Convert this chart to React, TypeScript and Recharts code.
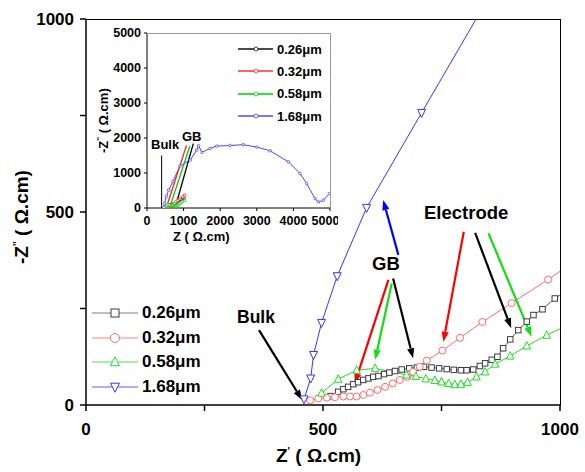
import React from "react";
import { LineChart, Line, XAxis, YAxis, ReferenceLine } from "recharts";

// Z' / -Z'' pairs (Ω.cm)
const s026: [number, number][] = [
  [516, 23], [532, 34], [543, 41], [553, 47], [564, 54], [574, 59], [585, 65], [596, 69],
  [606, 73], [617, 75], [629, 80], [640, 84], [652, 88], [666, 92], [682, 95], [698, 97],
  [713, 99], [729, 97], [745, 95], [761, 93], [776, 91], [791, 90], [803, 90], [817, 92],
  [831, 101], [842, 108], [856, 117], [868, 125], [880, 147], [895, 170], [912, 194],
  [930, 216], [944, 233], [963, 248], [989, 276], [1010, 292],
];
const s032: [number, number][] = [
  [473, 12], [490, 17], [508, 19], [525, 20], [543, 22], [557, 22], [571, 22], [585, 26],
  [599, 32], [615, 39], [631, 47], [647, 56], [662, 65], [678, 73], [690, 86], [704, 99],
  [719, 115], [752, 141], [789, 174], [836, 215], [898, 264], [975, 325], [1030, 372],
];
const s058: [number, number][] = [
  [497, 31], [532, 67], [571, 90], [610, 95], [676, 78], [696, 74], [717, 68], [736, 64],
  [750, 60], [765, 56], [778, 53], [791, 54], [805, 59], [824, 73], [842, 86], [863, 106],
  [895, 127], [930, 153], [972, 181], [1030, 215],
];
const s168: [number, number][] = [
  [460, 15], [474, 69], [480, 130], [497, 213], [530, 334], [592, 511], [708, 757], [850, 1057],
];
// full arc shown in the inset
const s168wide: [number, number][] = [
  [460, 15], [480, 130], [530, 334], [592, 511], [708, 757], [900, 1200], [1182, 1367],
  [1360, 1660], [1409, 1780], [1500, 1590], [1720, 1700], [1904, 1769], [2270, 1785],
  [2631, 1809], [3000, 1740], [3364, 1635], [3864, 1319], [4182, 985], [4364, 698],
  [4591, 268], [4682, 172], [4818, 220], [4982, 411],
];

const mainTicks = [0, 250, 500, 750, 1000];
const insetTicks = [0, 1000, 2000, 3000, 4000, 5000];
const seriesNames = ["0.26μm", "0.32μm", "0.58μm", "1.68μm"];

// annotation arrows, data coords [x1, y1, x2, y2]
const bulkArrow = [365, 194, 456, 13];
const gbArrows = [
  { c: "#ff0000", s: [638, 324, 567, 56] },
  { c: "#10e010", s: [645, 315, 610, 117] },
  { c: "#000000", s: [648, 328, 690, 121] },
  { c: "#0000ff", s: [659, 389, 627, 531] },
];
const electrodeArrows = [
  { c: "#ff0000", s: [797, 449, 754, 164] },
  { c: "#000000", s: [821, 446, 897, 199] },
  { c: "#10e010", s: [849, 445, 940, 177] },
];
const insetBulk = [400, 0, 400, 1500];
const insetGb = [
  { c: "#ff2020", s: [565, 130, 1080, 1790] },
  { c: "#00cc00", s: [660, 140, 1170, 1770] },
  { c: "#000000", s: [790, 86, 1265, 1840] },
];

const toXY = (a: [number, number][]) => a.map(([x, y]) => ({ x, y }));

const FONT = "'Liberation Sans', Arial, sans-serif";

type Kind = "square" | "circle" | "up" | "down";

function Marker({ kind, cx, cy, size, color, sw = 1 }: any) {
  const h = size / 2;
  if (kind === "square")
    return <rect x={cx - h} y={cy - h} width={size} height={size} fill="#fff" stroke={color} strokeWidth={sw} />;
  if (kind === "circle") return <circle cx={cx} cy={cy} r={h} fill="#fff" stroke={color} strokeWidth={sw} />;
  if (kind === "up")
    return (
      <polygon
        points={`${cx},${cy - size * 0.58} ${cx - h},${cy + size * 0.42} ${cx + h},${cy + size * 0.42}`}
        fill="#fff" stroke={color} strokeWidth={sw}
      />
    );
  return (
    <polygon
      points={`${cx},${cy + size * 0.58} ${cx - h},${cy - size * 0.42} ${cx + h},${cy - size * 0.42}`}
      fill="#fff" stroke={color} strokeWidth={sw}
    />
  );
}

const dot = (kind: Kind, color: string, size: number) => (p: any) => {
  if (p.cx == null || p.cy == null) return <g key={p.index} />;
  return <Marker key={p.index} kind={kind} cx={p.cx} cy={p.cy} size={size} color={color} />;
};

const arrow = (color: string, width = 2.2, head = true) => (p: any) => {
  const { x1, y1, x2, y2 } = p;
  const a = Math.atan2(y2 - y1, x2 - x1);
  const L = head ? 10 : 0;
  const W = 3.6;
  const bx = x2 - L * Math.cos(a);
  const by = y2 - L * Math.sin(a);
  return (
    <g>
      <line x1={x1} y1={y1} x2={bx} y2={by} stroke={color} strokeWidth={width} />
      {head && (
        <polygon
          points={`${x2},${y2} ${bx - W * Math.sin(a)},${by + W * Math.cos(a)} ${bx + W * Math.sin(a)},${by - W * Math.cos(a)}`}
          fill={color}
        />
      )}
    </g>
  );
};

const seg = (s: number[]) => [{ x: s[0], y: s[1] }, { x: s[2], y: s[3] }];

const mainSeries = [
  { data: s026, kind: "square" as Kind, color: "#3c3c3c", line: "#606060", size: 5.5 },
  { data: s032, kind: "circle" as Kind, color: "#ff6a6a", line: "#ff6a6a", size: 7 },
  { data: s058, kind: "up" as Kind, color: "#22dd22", line: "#22dd22", size: 7.5 },
  { data: s168, kind: "down" as Kind, color: "#3535ff", line: "#3535ff", size: 8 },
];

const insetSeries = [
  { data: s026, color: "#111111" },
  { data: s032, color: "#ff3030" },
  { data: s058, color: "#00d000" },
  { data: s168wide, color: "#4848ff" },
];

const abs = (left: number, top: number, extra: React.CSSProperties = {}): React.CSSProperties => ({
  position: "absolute",
  left,
  top,
  whiteSpace: "nowrap",
  ...extra,
});

export default function App() {
  const mainTickStyle = { fontSize: 17, fontWeight: 700, fill: "#000", fontFamily: FONT };
  const insetTickStyle = { fontSize: 12.5, fontWeight: 700, fill: "#000", fontFamily: FONT };
  return (
    <div
      style={{
        position: "absolute",
        left: 0,
        top: 0,
        width: 585,
        height: 472,
        background: "#fff",
        fontFamily: FONT,
        fontWeight: 700,
        color: "#000",
      }}
    >
      <LineChart width={585} height={472} margin={{ top: 19, right: 25, bottom: 0, left: 0 }}>
        <XAxis
          xAxisId="b"
          type="number"
          dataKey="x"
          domain={[0, 1000]}
          ticks={mainTicks}
          allowDataOverflow
          height={67}
          tickSize={6}
          tickMargin={12}
          tickFormatter={(v: number) => (v % 500 === 0 ? String(v) : "")}
          tick={mainTickStyle}
          axisLine={{ stroke: "#000", strokeWidth: 1.5 }}
          tickLine={{ stroke: "#000", strokeWidth: 1.5 }}
        />
        <YAxis
          yAxisId="l"
          type="number"
          domain={[0, 1000]}
          ticks={mainTicks}
          allowDataOverflow
          width={86}
          tickSize={6}
          tickMargin={6}
          tickFormatter={(v: number) => (v % 500 === 0 ? String(v) : "")}
          tick={mainTickStyle}
          axisLine={{ stroke: "#000", strokeWidth: 1.5 }}
          tickLine={{ stroke: "#000", strokeWidth: 1.5 }}
        />
        {mainSeries.map((s, i) => (
          <Line
            key={i}
            xAxisId="b"
            yAxisId="l"
            data={toXY(s.data)}
            dataKey="y"
            stroke={s.line}
            strokeWidth={1}
            dot={dot(s.kind, s.color, s.size)}
            activeDot={false}
            isAnimationActive={false}
          />
        ))}
        <ReferenceLine xAxisId="b" yAxisId="l" segment={seg(bulkArrow)} shape={arrow("#000")} />
        {[...gbArrows, ...electrodeArrows].map((a, i) => (
          <ReferenceLine key={i} xAxisId="b" yAxisId="l" segment={seg(a.s)} shape={arrow(a.c)} />
        ))}
      </LineChart>

      {/* frame top/right of main plot */}
      <div
        style={{
          position: "absolute", left: 86, top: 18.5, width: 474.5, height: 387,
          borderTop: "1.5px solid #000", borderRight: "1.5px solid #000", boxSizing: "border-box",
          pointerEvents: "none",
        }}
      />

      {/* axis titles */}
      <div style={abs(276, 445, { fontSize: 19 })}>
        Z<span style={{ fontSize: 10, verticalAlign: "super" }}>'</span> ( Ω.cm)
      </div>
      <div
        style={abs(-38, 206, { fontSize: 19, transform: "rotate(-90deg)", transformOrigin: "center", width: 120, textAlign: "center" })}
      >
        -Z<span style={{ fontSize: 10, verticalAlign: "super" }}>''</span> ( Ω.cm)
      </div>

      {/* main annotations */}
      <div style={abs(237, 307, { fontSize: 17.5 })}>Bulk</div>
      <div style={abs(372, 253, { fontSize: 18.5 })}>GB</div>
      <div style={abs(424, 202, { fontSize: 18.5 })}>Electrode</div>

      {/* main legend */}
      <div style={abs(92, 301)}>
        {mainSeries.map((s, i) => (
          <div key={i} style={{ display: "flex", alignItems: "center", height: 24.6 }}>
            <svg width={50} height={14}>
              <line x1={0} y1={7} x2={46} y2={7} stroke={s.line} strokeWidth={1} opacity={0.8} />
              <Marker kind={s.kind} cx={23} cy={7} size={s.kind === "square" ? 8 : 9} color={s.color} />
            </svg>
            <span style={{ fontSize: 17 }}>{seriesNames[i]}</span>
          </div>
        ))}
      </div>

      {/* inset */}
      <div style={{ position: "absolute", left: 92, top: 24, width: 246, height: 226 }}>
        <LineChart width={246} height={226} margin={{ top: 9, right: 8, bottom: 0, left: 0 }}>
          <XAxis
            xAxisId="b"
            type="number"
            dataKey="x"
            domain={[0, 5000]}
            ticks={insetTicks}
            allowDataOverflow
            height={42}
            tickSize={3}
            tickMargin={5}
            tick={insetTickStyle}
            axisLine={{ stroke: "#000" }}
            tickLine={{ stroke: "#000" }}
          />
          <YAxis
            yAxisId="l"
            type="number"
            domain={[0, 5000]}
            ticks={insetTicks}
            allowDataOverflow
            width={55}
            tickSize={3}
            tickMargin={3}
            tick={insetTickStyle}
            axisLine={{ stroke: "#000" }}
            tickLine={{ stroke: "#000" }}
          />
          {insetSeries.map((s, i) => (
            <Line
              key={i}
              xAxisId="b"
              yAxisId="l"
              data={toXY(s.data)}
              dataKey="y"
              stroke={s.color}
              strokeWidth={1}
              dot={{ r: 1.3, fill: "#fff", stroke: s.color, strokeWidth: 0.8 }}
              activeDot={false}
              isAnimationActive={false}
            />
          ))}
          <ReferenceLine xAxisId="b" yAxisId="l" segment={seg(insetBulk)} shape={arrow("#000", 1, false)} />
          {insetGb.map((a, i) => (
            <ReferenceLine key={i} xAxisId="b" yAxisId="l" segment={seg(a.s)} shape={arrow(a.c, 1.3, false)} />
          ))}
        </LineChart>
      </div>
      <div
        style={{
          position: "absolute", left: 147, top: 32.5, width: 183.5, height: 176,
          borderTop: "1px solid #999", borderRight: "1px solid #999", boxSizing: "border-box",
          pointerEvents: "none",
        }}
      />
      <div style={abs(173, 229, { fontSize: 13 })}>
        Z ( Ω.cm)
      </div>
      <div
        style={abs(58, 113, { fontSize: 13, transform: "rotate(-90deg)", transformOrigin: "center", width: 90, textAlign: "center" })}
      >
        -Z<span style={{ fontSize: 8, verticalAlign: "super" }}>''</span> ( Ω.cm)
      </div>
      <div style={abs(151, 137, { fontSize: 13 })}>Bulk</div>
      <div style={abs(182, 129, { fontSize: 13 })}>GB</div>

      {/* inset legend */}
      <div style={abs(238, 38)}>
        {insetSeries.map((s, i) => (
          <div key={i} style={{ display: "flex", alignItems: "center", height: 22.3 }}>
            <svg width={39} height={10}>
              <line x1={0} y1={5} x2={35} y2={5} stroke={s.color} strokeWidth={1.3} />
              <circle cx={18} cy={5} r={2} fill="#fff" stroke={s.color} strokeWidth={0.8} />
            </svg>
            <span style={{ fontSize: 13 }}>{seriesNames[i]}</span>
          </div>
        ))}
      </div>
    </div>
  );
}
